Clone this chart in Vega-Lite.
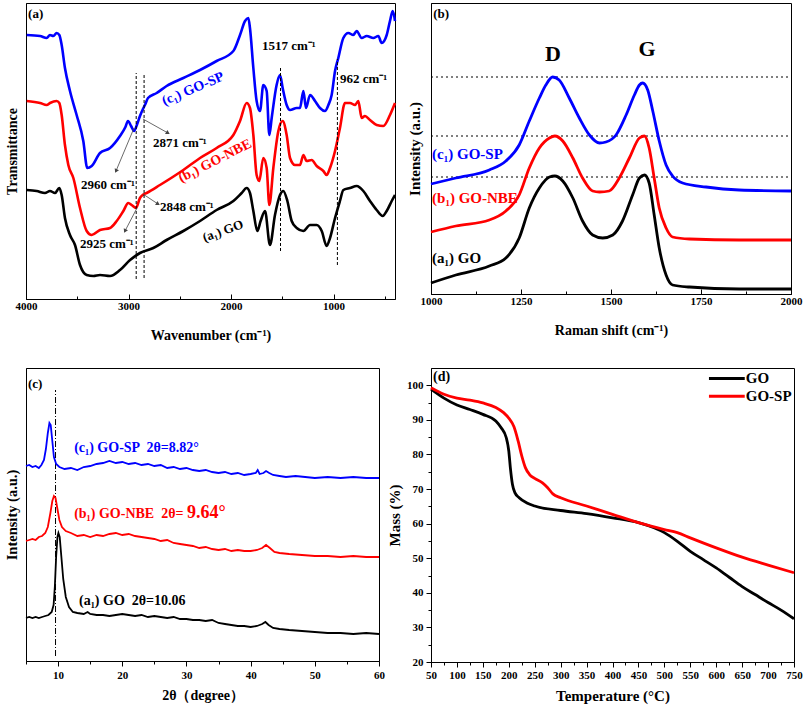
{
  "$schema": "https://vega.github.io/schema/vega-lite/v6.json",
  "background": "white",
  "padding": {"left": 3, "top": 2, "right": 0, "bottom": 2},
  "config": {
    "view": {"stroke": "black", "strokeWidth": 1},
    "font": "Liberation Serif",
    "axis": {"grid": false, "domainColor": "black", "tickColor": "black", "labelColor": "black", "titleColor": "black", "labelFont": "Liberation Serif", "titleFont": "Liberation Serif", "labelFontWeight": "bold", "titleFontWeight": "bold", "labelFontSize": 11, "titleFontSize": 14, "labelFlush": false, "labelOverlap": false},
    "text": {"font": "Liberation Serif", "fontWeight": "bold"}
  },
  "resolve": {"scale": {"color": "independent", "x": "independent", "y": "independent"}},
  "columns": 2,
  "bounds": "flush",
  "spacing": {"row": 69, "column": 36},
  "datasets": {
    "ftir": [
      {"s":"GO-SP","x":3993,"y":264},{"s":"GO-SP","x":3863,"y":263},{"s":"GO-SP","x":3798,"y":261},{"s":"GO-SP","x":3766,"y":264},{"s":"GO-SP","x":3733,"y":263},{"s":"GO-SP","x":3701,"y":266},{"s":"GO-SP","x":3675,"y":264},{"s":"GO-SP","x":3652,"y":254},{"s":"GO-SP","x":3620,"y":231},{"s":"GO-SP","x":3571,"y":208},{"s":"GO-SP","x":3506,"y":184},{"s":"GO-SP","x":3441,"y":158},{"s":"GO-SP","x":3402,"y":131},{"s":"GO-SP","x":3359,"y":133},{"s":"GO-SP","x":3278,"y":146},{"s":"GO-SP","x":3180,"y":151},{"s":"GO-SP","x":3083,"y":163},{"s":"GO-SP","x":3030,"y":172},{"s":"GO-SP","x":3005,"y":178},{"s":"GO-SP","x":2975,"y":173},{"s":"GO-SP","x":2946,"y":168},{"s":"GO-SP","x":2915,"y":175},{"s":"GO-SP","x":2888,"y":183},{"s":"GO-SP","x":2859,"y":190},{"s":"GO-SP","x":2835,"y":195},{"s":"GO-SP","x":2810,"y":201},{"s":"GO-SP","x":2725,"y":206},{"s":"GO-SP","x":2628,"y":213},{"s":"GO-SP","x":2465,"y":221},{"s":"GO-SP","x":2302,"y":229},{"s":"GO-SP","x":2140,"y":238},{"s":"GO-SP","x":1977,"y":248},{"s":"GO-SP","x":1912,"y":264},{"s":"GO-SP","x":1863,"y":278},{"s":"GO-SP","x":1831,"y":281},{"s":"GO-SP","x":1815,"y":271},{"s":"GO-SP","x":1782,"y":231},{"s":"GO-SP","x":1750,"y":198},{"s":"GO-SP","x":1717,"y":188},{"s":"GO-SP","x":1685,"y":214},{"s":"GO-SP","x":1652,"y":208},{"s":"GO-SP","x":1626,"y":164},{"s":"GO-SP","x":1603,"y":181},{"s":"GO-SP","x":1555,"y":214},{"s":"GO-SP","x":1522,"y":224},{"s":"GO-SP","x":1496,"y":211},{"s":"GO-SP","x":1457,"y":194},{"s":"GO-SP","x":1424,"y":189},{"s":"GO-SP","x":1359,"y":191},{"s":"GO-SP","x":1327,"y":191},{"s":"GO-SP","x":1294,"y":208},{"s":"GO-SP","x":1268,"y":191},{"s":"GO-SP","x":1229,"y":204},{"s":"GO-SP","x":1180,"y":198},{"s":"GO-SP","x":1132,"y":191},{"s":"GO-SP","x":1083,"y":188},{"s":"GO-SP","x":1050,"y":194},{"s":"GO-SP","x":1018,"y":204},{"s":"GO-SP","x":985,"y":228},{"s":"GO-SP","x":953,"y":241},{"s":"GO-SP","x":904,"y":261},{"s":"GO-SP","x":855,"y":266},{"s":"GO-SP","x":807,"y":264},{"s":"GO-SP","x":774,"y":268},{"s":"GO-SP","x":725,"y":261},{"s":"GO-SP","x":676,"y":263},{"s":"GO-SP","x":611,"y":261},{"s":"GO-SP","x":563,"y":263},{"s":"GO-SP","x":530,"y":256},{"s":"GO-SP","x":481,"y":264},{"s":"GO-SP","x":449,"y":278},{"s":"GO-SP","x":422,"y":288},{"s":"GO-SP","x":400,"y":278},
      {"s":"GO-NBE","x":3993,"y":198},{"s":"GO-NBE","x":3863,"y":196},{"s":"GO-NBE","x":3798,"y":194},{"s":"GO-NBE","x":3766,"y":196},{"s":"GO-NBE","x":3701,"y":198},{"s":"GO-NBE","x":3675,"y":196},{"s":"GO-NBE","x":3652,"y":184},{"s":"GO-NBE","x":3620,"y":154},{"s":"GO-NBE","x":3587,"y":134},{"s":"GO-NBE","x":3538,"y":121},{"s":"GO-NBE","x":3473,"y":91},{"s":"GO-NBE","x":3408,"y":68},{"s":"GO-NBE","x":3359,"y":64},{"s":"GO-NBE","x":3278,"y":69},{"s":"GO-NBE","x":3180,"y":71},{"s":"GO-NBE","x":3115,"y":78},{"s":"GO-NBE","x":3050,"y":88},{"s":"GO-NBE","x":3002,"y":96},{"s":"GO-NBE","x":2969,"y":94},{"s":"GO-NBE","x":2927,"y":91},{"s":"GO-NBE","x":2888,"y":101},{"s":"GO-NBE","x":2862,"y":104},{"s":"GO-NBE","x":2823,"y":106},{"s":"GO-NBE","x":2693,"y":114},{"s":"GO-NBE","x":2465,"y":129},{"s":"GO-NBE","x":2302,"y":141},{"s":"GO-NBE","x":2140,"y":151},{"s":"GO-NBE","x":1977,"y":164},{"s":"GO-NBE","x":1912,"y":178},{"s":"GO-NBE","x":1847,"y":196},{"s":"GO-NBE","x":1815,"y":191},{"s":"GO-NBE","x":1782,"y":164},{"s":"GO-NBE","x":1750,"y":124},{"s":"GO-NBE","x":1724,"y":118},{"s":"GO-NBE","x":1685,"y":141},{"s":"GO-NBE","x":1652,"y":131},{"s":"GO-NBE","x":1626,"y":94},{"s":"GO-NBE","x":1587,"y":131},{"s":"GO-NBE","x":1538,"y":168},{"s":"GO-NBE","x":1496,"y":178},{"s":"GO-NBE","x":1457,"y":164},{"s":"GO-NBE","x":1424,"y":141},{"s":"GO-NBE","x":1376,"y":134},{"s":"GO-NBE","x":1327,"y":134},{"s":"GO-NBE","x":1294,"y":144},{"s":"GO-NBE","x":1262,"y":138},{"s":"GO-NBE","x":1213,"y":139},{"s":"GO-NBE","x":1164,"y":133},{"s":"GO-NBE","x":1099,"y":128},{"s":"GO-NBE","x":1067,"y":124},{"s":"GO-NBE","x":1034,"y":131},{"s":"GO-NBE","x":985,"y":148},{"s":"GO-NBE","x":937,"y":171},{"s":"GO-NBE","x":888,"y":196},{"s":"GO-NBE","x":839,"y":196},{"s":"GO-NBE","x":790,"y":194},{"s":"GO-NBE","x":758,"y":198},{"s":"GO-NBE","x":725,"y":181},{"s":"GO-NBE","x":693,"y":183},{"s":"GO-NBE","x":644,"y":179},{"s":"GO-NBE","x":579,"y":174},{"s":"GO-NBE","x":514,"y":173},{"s":"GO-NBE","x":449,"y":184},{"s":"GO-NBE","x":400,"y":196},
      {"s":"GO","x":3993,"y":109},{"s":"GO","x":3896,"y":108},{"s":"GO","x":3815,"y":106},{"s":"GO","x":3766,"y":108},{"s":"GO","x":3717,"y":106},{"s":"GO","x":3675,"y":111},{"s":"GO","x":3652,"y":104},{"s":"GO","x":3620,"y":81},{"s":"GO","x":3571,"y":64},{"s":"GO","x":3522,"y":54},{"s":"GO","x":3473,"y":34},{"s":"GO","x":3408,"y":24},{"s":"GO","x":3343,"y":23},{"s":"GO","x":3278,"y":24},{"s":"GO","x":3180,"y":23},{"s":"GO","x":3083,"y":29},{"s":"GO","x":2985,"y":39},{"s":"GO","x":2888,"y":46},{"s":"GO","x":2758,"y":51},{"s":"GO","x":2628,"y":59},{"s":"GO","x":2465,"y":68},{"s":"GO","x":2302,"y":78},{"s":"GO","x":2140,"y":89},{"s":"GO","x":1977,"y":98},{"s":"GO","x":1896,"y":106},{"s":"GO","x":1847,"y":111},{"s":"GO","x":1815,"y":106},{"s":"GO","x":1782,"y":88},{"s":"GO","x":1743,"y":68},{"s":"GO","x":1711,"y":78},{"s":"GO","x":1668,"y":88},{"s":"GO","x":1620,"y":54},{"s":"GO","x":1571,"y":84},{"s":"GO","x":1522,"y":104},{"s":"GO","x":1490,"y":108},{"s":"GO","x":1450,"y":98},{"s":"GO","x":1408,"y":78},{"s":"GO","x":1359,"y":71},{"s":"GO","x":1294,"y":68},{"s":"GO","x":1229,"y":74},{"s":"GO","x":1164,"y":74},{"s":"GO","x":1115,"y":68},{"s":"GO","x":1067,"y":53},{"s":"GO","x":1034,"y":61},{"s":"GO","x":985,"y":81},{"s":"GO","x":937,"y":98},{"s":"GO","x":904,"y":109},{"s":"GO","x":839,"y":111},{"s":"GO","x":774,"y":113},{"s":"GO","x":709,"y":108},{"s":"GO","x":644,"y":98},{"s":"GO","x":579,"y":89},{"s":"GO","x":520,"y":83},{"s":"GO","x":481,"y":88},{"s":"GO","x":432,"y":98},{"s":"GO","x":400,"y":104}
    ],
    "raman": [
      {"s":"GO-SP","x":1000,"y":110},{"s":"GO-SP","x":1069,"y":116},{"s":"GO-SP","x":1162,"y":124},{"s":"GO-SP","x":1208,"y":133},{"s":"GO-SP","x":1245,"y":149},{"s":"GO-SP","x":1273,"y":173},{"s":"GO-SP","x":1301,"y":196},{"s":"GO-SP","x":1319,"y":209},{"s":"GO-SP","x":1338,"y":217},{"s":"GO-SP","x":1356,"y":214},{"s":"GO-SP","x":1384,"y":196},{"s":"GO-SP","x":1412,"y":176},{"s":"GO-SP","x":1440,"y":159},{"s":"GO-SP","x":1468,"y":151},{"s":"GO-SP","x":1486,"y":152},{"s":"GO-SP","x":1514,"y":159},{"s":"GO-SP","x":1542,"y":179},{"s":"GO-SP","x":1565,"y":199},{"s":"GO-SP","x":1579,"y":209},{"s":"GO-SP","x":1588,"y":211},{"s":"GO-SP","x":1602,"y":204},{"s":"GO-SP","x":1616,"y":183},{"s":"GO-SP","x":1634,"y":153},{"s":"GO-SP","x":1653,"y":129},{"s":"GO-SP","x":1671,"y":118},{"s":"GO-SP","x":1699,"y":111},{"s":"GO-SP","x":1764,"y":107},{"s":"GO-SP","x":1856,"y":104},{"s":"GO-SP","x":2000,"y":103},
      {"s":"GO-NBE","x":1000,"y":62},{"s":"GO-NBE","x":1069,"y":68},{"s":"GO-NBE","x":1162,"y":74},{"s":"GO-NBE","x":1208,"y":83},{"s":"GO-NBE","x":1245,"y":99},{"s":"GO-NBE","x":1273,"y":126},{"s":"GO-NBE","x":1301,"y":146},{"s":"GO-NBE","x":1329,"y":156},{"s":"GO-NBE","x":1344,"y":158},{"s":"GO-NBE","x":1366,"y":153},{"s":"GO-NBE","x":1394,"y":136},{"s":"GO-NBE","x":1421,"y":116},{"s":"GO-NBE","x":1449,"y":103},{"s":"GO-NBE","x":1468,"y":102},{"s":"GO-NBE","x":1495,"y":103},{"s":"GO-NBE","x":1523,"y":116},{"s":"GO-NBE","x":1551,"y":136},{"s":"GO-NBE","x":1579,"y":156},{"s":"GO-NBE","x":1593,"y":158},{"s":"GO-NBE","x":1606,"y":146},{"s":"GO-NBE","x":1620,"y":116},{"s":"GO-NBE","x":1634,"y":86},{"s":"GO-NBE","x":1653,"y":66},{"s":"GO-NBE","x":1671,"y":57},{"s":"GO-NBE","x":1718,"y":55},{"s":"GO-NBE","x":1856,"y":54},{"s":"GO-NBE","x":2000,"y":54},
      {"s":"GO","x":1000,"y":11},{"s":"GO","x":1069,"y":19},{"s":"GO","x":1162,"y":28},{"s":"GO","x":1208,"y":36},{"s":"GO","x":1245,"y":56},{"s":"GO","x":1273,"y":86},{"s":"GO","x":1301,"y":106},{"s":"GO","x":1329,"y":117},{"s":"GO","x":1344,"y":118},{"s":"GO","x":1366,"y":113},{"s":"GO","x":1394,"y":96},{"s":"GO","x":1421,"y":73},{"s":"GO","x":1449,"y":59},{"s":"GO","x":1477,"y":56},{"s":"GO","x":1505,"y":59},{"s":"GO","x":1532,"y":73},{"s":"GO","x":1560,"y":99},{"s":"GO","x":1579,"y":116},{"s":"GO","x":1593,"y":119},{"s":"GO","x":1606,"y":111},{"s":"GO","x":1620,"y":79},{"s":"GO","x":1634,"y":46},{"s":"GO","x":1653,"y":19},{"s":"GO","x":1671,"y":9},{"s":"GO","x":1718,"y":7},{"s":"GO","x":1856,"y":5},{"s":"GO","x":2000,"y":5}
    ],
    "xrd": [
      {"s":"GO-SP","x":5,"y":195},{"s":"GO-SP","x":5.5,"y":196},{"s":"GO-SP","x":6,"y":194},{"s":"GO-SP","x":6.5,"y":195},{"s":"GO-SP","x":7,"y":193},{"s":"GO-SP","x":7.4,"y":196},{"s":"GO-SP","x":7.8,"y":201},{"s":"GO-SP","x":8.1,"y":212},{"s":"GO-SP","x":8.4,"y":228},{"s":"GO-SP","x":8.65,"y":238},{"s":"GO-SP","x":8.85,"y":236},{"s":"GO-SP","x":9.1,"y":220},{"s":"GO-SP","x":9.35,"y":204},{"s":"GO-SP","x":9.7,"y":197},{"s":"GO-SP","x":10.2,"y":194},{"s":"GO-SP","x":11,"y":192},{"s":"GO-SP","x":12,"y":193},{"s":"GO-SP","x":13,"y":191},{"s":"GO-SP","x":14,"y":194},{"s":"GO-SP","x":15,"y":195},{"s":"GO-SP","x":16,"y":197},{"s":"GO-SP","x":17,"y":198},{"s":"GO-SP","x":18,"y":200},{"s":"GO-SP","x":19,"y":198},{"s":"GO-SP","x":20,"y":199},{"s":"GO-SP","x":21,"y":197},{"s":"GO-SP","x":22,"y":198},{"s":"GO-SP","x":23,"y":196},{"s":"GO-SP","x":24,"y":197},{"s":"GO-SP","x":25,"y":195},{"s":"GO-SP","x":26,"y":196},{"s":"GO-SP","x":27,"y":193},{"s":"GO-SP","x":28,"y":194},{"s":"GO-SP","x":29,"y":192},{"s":"GO-SP","x":30,"y":193},{"s":"GO-SP","x":31,"y":191},{"s":"GO-SP","x":32,"y":190},{"s":"GO-SP","x":33,"y":191},{"s":"GO-SP","x":34,"y":189},{"s":"GO-SP","x":35,"y":188},{"s":"GO-SP","x":36,"y":189},{"s":"GO-SP","x":37,"y":187},{"s":"GO-SP","x":38,"y":188},{"s":"GO-SP","x":39,"y":186},{"s":"GO-SP","x":40,"y":187},{"s":"GO-SP","x":40.8,"y":188},{"s":"GO-SP","x":41.1,"y":191},{"s":"GO-SP","x":41.4,"y":187},{"s":"GO-SP","x":42,"y":188},{"s":"GO-SP","x":42.4,"y":190},{"s":"GO-SP","x":42.9,"y":188},{"s":"GO-SP","x":43.5,"y":186},{"s":"GO-SP","x":44.5,"y":185},{"s":"GO-SP","x":45.5,"y":184},{"s":"GO-SP","x":47,"y":185},{"s":"GO-SP","x":48.5,"y":184},{"s":"GO-SP","x":50,"y":183},{"s":"GO-SP","x":52,"y":184},{"s":"GO-SP","x":54,"y":183},{"s":"GO-SP","x":56,"y":184},{"s":"GO-SP","x":58,"y":183},{"s":"GO-SP","x":60,"y":183},
      {"s":"GO-NBE","x":5,"y":120},{"s":"GO-NBE","x":5.5,"y":121},{"s":"GO-NBE","x":6,"y":122},{"s":"GO-NBE","x":6.5,"y":121},{"s":"GO-NBE","x":7,"y":124},{"s":"GO-NBE","x":7.5,"y":125},{"s":"GO-NBE","x":8,"y":128},{"s":"GO-NBE","x":8.4,"y":134},{"s":"GO-NBE","x":8.8,"y":148},{"s":"GO-NBE","x":9.1,"y":160},{"s":"GO-NBE","x":9.35,"y":165},{"s":"GO-NBE","x":9.6,"y":163},{"s":"GO-NBE","x":9.9,"y":152},{"s":"GO-NBE","x":10.2,"y":141},{"s":"GO-NBE","x":10.6,"y":134},{"s":"GO-NBE","x":11.2,"y":130},{"s":"GO-NBE","x":12,"y":128},{"s":"GO-NBE","x":13,"y":125},{"s":"GO-NBE","x":14,"y":126},{"s":"GO-NBE","x":15,"y":124},{"s":"GO-NBE","x":16,"y":126},{"s":"GO-NBE","x":17,"y":125},{"s":"GO-NBE","x":18,"y":127},{"s":"GO-NBE","x":19,"y":128},{"s":"GO-NBE","x":20,"y":126},{"s":"GO-NBE","x":21,"y":127},{"s":"GO-NBE","x":22,"y":125},{"s":"GO-NBE","x":23,"y":124},{"s":"GO-NBE","x":24,"y":123},{"s":"GO-NBE","x":25,"y":122},{"s":"GO-NBE","x":26,"y":120},{"s":"GO-NBE","x":27,"y":121},{"s":"GO-NBE","x":28,"y":118},{"s":"GO-NBE","x":29,"y":117},{"s":"GO-NBE","x":30,"y":116},{"s":"GO-NBE","x":31,"y":115},{"s":"GO-NBE","x":32,"y":113},{"s":"GO-NBE","x":33,"y":114},{"s":"GO-NBE","x":34,"y":112},{"s":"GO-NBE","x":35,"y":111},{"s":"GO-NBE","x":36,"y":112},{"s":"GO-NBE","x":37,"y":110},{"s":"GO-NBE","x":38,"y":111},{"s":"GO-NBE","x":39,"y":110},{"s":"GO-NBE","x":40,"y":110},{"s":"GO-NBE","x":41,"y":111},{"s":"GO-NBE","x":41.8,"y":113},{"s":"GO-NBE","x":42.4,"y":116},{"s":"GO-NBE","x":43,"y":113},{"s":"GO-NBE","x":43.7,"y":109},{"s":"GO-NBE","x":44.5,"y":108},{"s":"GO-NBE","x":46,"y":107},{"s":"GO-NBE","x":48,"y":106},{"s":"GO-NBE","x":50,"y":105},{"s":"GO-NBE","x":52,"y":105},{"s":"GO-NBE","x":54,"y":104},{"s":"GO-NBE","x":56,"y":105},{"s":"GO-NBE","x":58,"y":104},{"s":"GO-NBE","x":60,"y":104},
      {"s":"GO","x":5,"y":43},{"s":"GO","x":5.5,"y":44},{"s":"GO","x":6,"y":43},{"s":"GO","x":6.5,"y":44},{"s":"GO","x":7,"y":43},{"s":"GO","x":7.5,"y":44},{"s":"GO","x":8,"y":45},{"s":"GO","x":8.5,"y":46},{"s":"GO","x":9,"y":49},{"s":"GO","x":9.3,"y":56},{"s":"GO","x":9.5,"y":75},{"s":"GO","x":9.7,"y":105},{"s":"GO","x":9.9,"y":124},{"s":"GO","x":10.05,"y":128},{"s":"GO","x":10.25,"y":124},{"s":"GO","x":10.5,"y":105},{"s":"GO","x":10.8,"y":82},{"s":"GO","x":11.2,"y":64},{"s":"GO","x":11.7,"y":54},{"s":"GO","x":12.3,"y":49},{"s":"GO","x":13,"y":48},{"s":"GO","x":14,"y":47},{"s":"GO","x":14.6,"y":49},{"s":"GO","x":15,"y":47},{"s":"GO","x":16,"y":46},{"s":"GO","x":17,"y":46},{"s":"GO","x":18,"y":45},{"s":"GO","x":19,"y":46},{"s":"GO","x":20,"y":47},{"s":"GO","x":21,"y":46},{"s":"GO","x":22,"y":45},{"s":"GO","x":23,"y":46},{"s":"GO","x":24,"y":44},{"s":"GO","x":25,"y":45},{"s":"GO","x":26,"y":44},{"s":"GO","x":27,"y":43},{"s":"GO","x":28,"y":44},{"s":"GO","x":29,"y":42},{"s":"GO","x":30,"y":42},{"s":"GO","x":31,"y":41},{"s":"GO","x":32,"y":41},{"s":"GO","x":33,"y":40},{"s":"GO","x":34,"y":41},{"s":"GO","x":35,"y":38},{"s":"GO","x":36,"y":37},{"s":"GO","x":37,"y":36},{"s":"GO","x":38,"y":35},{"s":"GO","x":39,"y":35},{"s":"GO","x":40,"y":34},{"s":"GO","x":41,"y":35},{"s":"GO","x":41.8,"y":37},{"s":"GO","x":42.3,"y":39},{"s":"GO","x":42.8,"y":36},{"s":"GO","x":43.5,"y":33},{"s":"GO","x":44.5,"y":32},{"s":"GO","x":46,"y":31},{"s":"GO","x":48,"y":30},{"s":"GO","x":50,"y":29},{"s":"GO","x":52,"y":28},{"s":"GO","x":54,"y":28},{"s":"GO","x":56,"y":27},{"s":"GO","x":58,"y":28},{"s":"GO","x":60,"y":27}
    ],
    "tga": [
      {"s":"GO","x":50,"y":98.9},{"s":"GO","x":75,"y":96.3},{"s":"GO","x":100,"y":94.3},{"s":"GO","x":125,"y":93.0},{"s":"GO","x":150,"y":91.6},{"s":"GO","x":175,"y":89.7},{"s":"GO","x":185,"y":87.8},{"s":"GO","x":195,"y":84.9},{"s":"GO","x":200,"y":81.0},{"s":"GO","x":203,"y":76.2},{"s":"GO","x":207,"y":71.4},{"s":"GO","x":212,"y":68.9},{"s":"GO","x":220,"y":67.5},{"s":"GO","x":235,"y":66.0},{"s":"GO","x":250,"y":65.1},{"s":"GO","x":300,"y":63.8},{"s":"GO","x":350,"y":62.9},{"s":"GO","x":400,"y":61.7},{"s":"GO","x":450,"y":60.3},{"s":"GO","x":480,"y":58.8},{"s":"GO","x":500,"y":57.4},{"s":"GO","x":525,"y":54.9},{"s":"GO","x":550,"y":52.0},{"s":"GO","x":575,"y":49.6},{"s":"GO","x":600,"y":47.2},{"s":"GO","x":625,"y":44.5},{"s":"GO","x":650,"y":41.8},{"s":"GO","x":675,"y":39.5},{"s":"GO","x":700,"y":37.2},{"s":"GO","x":725,"y":35.0},{"s":"GO","x":750,"y":32.5},
      {"s":"GO-SP","x":50,"y":99.3},{"s":"GO-SP","x":75,"y":97.4},{"s":"GO-SP","x":100,"y":96.3},{"s":"GO-SP","x":125,"y":95.7},{"s":"GO-SP","x":150,"y":94.9},{"s":"GO-SP","x":175,"y":93.6},{"s":"GO-SP","x":190,"y":92.1},{"s":"GO-SP","x":200,"y":90.5},{"s":"GO-SP","x":210,"y":88.0},{"s":"GO-SP","x":218,"y":83.9},{"s":"GO-SP","x":225,"y":79.6},{"s":"GO-SP","x":232,"y":76.2},{"s":"GO-SP","x":240,"y":74.2},{"s":"GO-SP","x":250,"y":73.1},{"s":"GO-SP","x":265,"y":71.8},{"s":"GO-SP","x":275,"y":70.4},{"s":"GO-SP","x":285,"y":68.6},{"s":"GO-SP","x":300,"y":67.5},{"s":"GO-SP","x":350,"y":65.1},{"s":"GO-SP","x":400,"y":62.7},{"s":"GO-SP","x":450,"y":60.3},{"s":"GO-SP","x":500,"y":58.3},{"s":"GO-SP","x":525,"y":57.4},{"s":"GO-SP","x":550,"y":55.9},{"s":"GO-SP","x":600,"y":53.0},{"s":"GO-SP","x":650,"y":50.3},{"s":"GO-SP","x":700,"y":48.0},{"s":"GO-SP","x":750,"y":45.8}
    ]
  },
  "concat": [
    {
      "width": 369, "height": 296,
      "encoding": {
        "x": {"field": "x", "type": "quantitative", "scale": {"domain": [400, 4000], "reverse": true, "nice": false, "zero": false},
              "axis": {"title": "Wavenumber (cm⁻¹)", "values": [4000,3500,3000,2500,2000,1500,1000,500], "format": "d", "labelExpr": "datum.value % 1000 === 0 ? datum.label : ''", "tickSize": {"condition": {"test": "datum.value % 1000 === 0", "value": -5}, "value": -3}, "labelPadding": 6, "titlePadding": 15, "titleFontSize": 14}},
        "y": {"field": "y", "type": "quantitative", "scale": {"domain": [0, 296], "nice": false, "zero": false},
              "axis": {"title": "Transmittance", "labels": false, "ticks": false, "titlePadding": 7, "titleFontSize": 14}}
      },
      "layer": [
        {"data": {"name": "ftir"}, "mark": {"type": "line", "strokeWidth": 2.6, "interpolate": "monotone"},
         "encoding": {"color": {"field": "s", "type": "nominal", "scale": {"domain": ["GO", "GO-NBE", "GO-SP"], "range": ["#000000", "#ff0000", "#0000ff"]}, "legend": null}}},
        {"data": {"values": [{"x": 2925, "y": 20, "y2": 226}, {"x": 2848, "y": 21, "y2": 226}, {"x": 1517, "y": 48, "y2": 231}, {"x": 962, "y": 34, "y2": 240}]},
         "mark": {"type": "rule", "strokeDash": [3, 2], "color": "black", "strokeWidth": 1}, "encoding": {"y2": {"field": "y2"}}},
        {"data": {"values": [{"x": 2946, "y": 171, "x2": 3122, "y2": 128}, {"x": 2859, "y": 180, "x2": 2615, "y2": 166}, {"x": 2859, "y": 105, "x2": 2712, "y2": 95}, {"x": 2917, "y": 91, "x2": 3034, "y2": 68}]},
         "mark": {"type": "rule", "color": "#444444", "strokeWidth": 0.8}, "encoding": {"x2": {"field": "x2"}, "y2": {"field": "y2"}}},
        {"data": {"values": [{"x": 3122, "y": 128}, {"x": 3034, "y": 68}]},
         "mark": {"type": "point", "shape": "triangle-up", "filled": true, "size": 22, "color": "#444444", "opacity": 1, "angle": 205}},
        {"data": {"values": [{"x": 2615, "y": 166}, {"x": 2712, "y": 95}]},
         "mark": {"type": "point", "shape": "triangle-up", "filled": true, "size": 22, "color": "#444444", "opacity": 1, "angle": 121}},
        {"data": {"values": [{"x": 3980, "y": 285, "t": "(a)"}]},
         "mark": {"type": "text", "align": "left", "baseline": "middle", "fontSize": 13, "color": "black"}, "encoding": {"text": {"field": "t"}}},
        {"data": {"values": [{"x": 1698, "y": 253, "t": "1517 cm⁻¹"}, {"x": 937, "y": 220, "t": "962 cm⁻¹"}, {"x": 2761, "y": 156, "t": "2871 cm⁻¹"}, {"x": 3463, "y": 114, "t": "2960 cm⁻¹"}, {"x": 2693, "y": 92, "t": "2848 cm⁻¹"}, {"x": 3473, "y": 55, "t": "2925 cm⁻¹"}]},
         "mark": {"type": "text", "align": "left", "baseline": "middle", "fontSize": 13, "color": "black"}, "encoding": {"text": {"field": "t"}}},
        {"data": {"values": [{"x": 2371, "y": 210, "t": "(c₁) GO-SP"}]},
         "mark": {"type": "text", "align": "center", "baseline": "middle", "fontSize": 14, "angle": -23, "color": "#0000ff"}, "encoding": {"text": {"field": "t"}}},
        {"data": {"values": [{"x": 2156, "y": 138, "t": "(b₁) GO-NBE"}]},
         "mark": {"type": "text", "align": "center", "baseline": "middle", "fontSize": 14, "angle": -27, "color": "#ff0000"}, "encoding": {"text": {"field": "t"}}},
        {"data": {"values": [{"x": 2078, "y": 68, "t": "(a₁) GO"}]},
         "mark": {"type": "text", "align": "center", "baseline": "middle", "fontSize": 13, "angle": -20, "color": "black"}, "encoding": {"text": {"field": "t"}}}
      ]
    },
    {
      "width": 360, "height": 291,
      "encoding": {
        "x": {"field": "x", "type": "quantitative", "scale": {"domain": [1000, 2000], "nice": false, "zero": false},
              "axis": {"title": "Raman shift (cm⁻¹)", "values": [1000,1125,1250,1375,1500,1625,1750,1875,2000], "format": "d", "labelExpr": "datum.value % 250 === 0 ? datum.label : ''", "tickSize": {"condition": {"test": "datum.value % 250 === 0", "value": -5}, "value": -3}, "labelPadding": 6, "titlePadding": 15, "titleFontSize": 14}},
        "y": {"field": "y", "type": "quantitative", "scale": {"domain": [0, 291], "nice": false, "zero": false},
              "axis": {"title": "Intensity (a.u.)", "labels": false, "ticks": false, "titlePadding": 9, "titleFontSize": 15}}
      },
      "layer": [
        {"data": {"values": [{"x": 1000, "x2": 2000, "y": 217}, {"x": 1000, "x2": 2000, "y": 158}, {"x": 1000, "x2": 2000, "y": 117}]},
         "mark": {"type": "rule", "strokeDash": [2, 3], "color": "black", "strokeWidth": 1}, "encoding": {"x2": {"field": "x2"}}},
        {"data": {"name": "raman"}, "mark": {"type": "line", "strokeWidth": 2.8, "interpolate": "monotone"},
         "encoding": {"color": {"field": "s", "type": "nominal", "scale": {"domain": ["GO", "GO-NBE", "GO-SP"], "range": ["#000000", "#ff0000", "#0000ff"]}, "legend": null}}},
        {"data": {"values": [{"x": 1006, "y": 280, "t": "(b)"}]},
         "mark": {"type": "text", "align": "left", "baseline": "middle", "fontSize": 13, "color": "black"}, "encoding": {"text": {"field": "t"}}},
        {"data": {"values": [{"x": 1339, "y": 240, "t": "D"}, {"x": 1600, "y": 245, "t": "G"}]},
         "mark": {"type": "text", "align": "center", "baseline": "middle", "fontSize": 22, "color": "black"}, "encoding": {"text": {"field": "t"}}},
        {"data": {"values": [{"x": 1003, "y": 140, "t": "(c₁) GO-SP", "s": "GO-SP"}, {"x": 1003, "y": 96, "t": "(b₁) GO-NBE", "s": "GO-NBE"}, {"x": 1003, "y": 36, "t": "(a₁) GO", "s": "GO"}]},
         "mark": {"type": "text", "align": "left", "baseline": "middle", "fontSize": 15},
         "encoding": {"text": {"field": "t"}, "color": {"field": "s", "type": "nominal", "scale": {"domain": ["GO", "GO-NBE", "GO-SP"], "range": ["#000000", "#ff0000", "#0000ff"]}, "legend": null}}}
      ]
    },
    {
      "width": 353, "height": 293,
      "encoding": {
        "x": {"field": "x", "type": "quantitative", "scale": {"domain": [5, 60], "nice": false, "zero": false},
              "axis": {"title": "2θ（degree）", "values": [5,10,15,20,25,30,35,40,45,50,55,60], "labelExpr": "datum.value % 10 === 0 ? datum.label : ''", "tickSize": {"condition": {"test": "datum.value % 10 === 0", "value": 5}, "value": 3}, "labelPadding": 3, "titlePadding": 8, "titleFontSize": 14}},
        "y": {"field": "y", "type": "quantitative", "scale": {"domain": [0, 293], "nice": false, "zero": false},
              "axis": {"title": "Intensity (a.u.)", "labels": false, "ticks": false, "titlePadding": 7, "titleFontSize": 14.5}}
      },
      "layer": [
        {"data": {"values": [{"x": 9.6, "y": 5, "y2": 271}]},
         "mark": {"type": "rule", "strokeDash": [6, 2, 1, 2], "color": "black", "strokeWidth": 1}, "encoding": {"y2": {"field": "y2"}}},
        {"data": {"name": "xrd"}, "mark": {"type": "line", "strokeWidth": 1.8},
         "encoding": {"color": {"field": "s", "type": "nominal", "scale": {"domain": ["GO", "GO-NBE", "GO-SP"], "range": ["#000000", "#ff0000", "#0000ff"]}, "legend": null}}},
        {"data": {"values": [{"x": 5.3, "y": 277, "t": "(c)"}]},
         "mark": {"type": "text", "align": "left", "baseline": "middle", "fontSize": 13, "color": "black"}, "encoding": {"text": {"field": "t"}}},
        {"data": {"values": [{"x": 12.5, "y": 209, "t": "(c₁) GO-SP \u00a02θ=8.82°", "s": "GO-SP"}, {"x": 12.5, "y": 143, "t": "(b₁) GO-NBE \u00a02θ=", "s": "GO-NBE"}, {"x": 13.26, "y": 56, "t": "(a₁) GO \u00a02θ=10.06", "s": "GO"}]},
         "mark": {"type": "text", "align": "left", "baseline": "alphabetic", "fontSize": 14},
         "encoding": {"text": {"field": "t"}, "color": {"field": "s", "type": "nominal", "scale": {"domain": ["GO", "GO-NBE", "GO-SP"], "range": ["#000000", "#ff0000", "#0000ff"]}, "legend": null}}},
        {"data": {"values": [{"x": 30.1, "y": 143, "t": "9.64°"}]},
         "mark": {"type": "text", "align": "left", "baseline": "alphabetic", "fontSize": 18, "color": "#ff0000"}, "encoding": {"text": {"field": "t"}}}
      ]
    },
    {
      "width": 363, "height": 294,
      "encoding": {
        "x": {"field": "x", "type": "quantitative", "scale": {"domain": [50, 750], "nice": false, "zero": false},
              "axis": {"title": "Temperature (°C)", "values": [50,75,100,125,150,175,200,225,250,275,300,325,350,375,400,425,450,475,500,525,550,575,600,625,650,675,700,725,750], "labelExpr": "datum.value % 50 === 0 ? datum.label : ''", "tickSize": {"condition": {"test": "datum.value % 50 === 0", "value": 5}, "value": 3}, "labelPadding": 2, "titlePadding": 8, "titleFontSize": 15}},
        "y": {"field": "y", "type": "quantitative", "scale": {"domain": [20, 105], "nice": false, "zero": false},
              "axis": {"title": "Mass (%)", "values": [20,25,30,35,40,45,50,55,60,65,70,75,80,85,90,95,100], "labelExpr": "datum.value % 10 === 0 ? datum.label : ''", "tickSize": {"condition": {"test": "datum.value % 10 === 0", "value": 5}, "value": 3}, "labelPadding": 3, "titlePadding": 4, "titleFontSize": 15}}
      },
      "layer": [
        {"data": {"name": "tga"}, "mark": {"type": "line", "strokeWidth": 2.8, "interpolate": "monotone"},
         "encoding": {"color": {"field": "s", "type": "nominal", "scale": {"domain": ["GO", "GO-SP"], "range": ["#000000", "#ff0000"]}, "legend": null}}},
        {"data": {"values": [{"x": 586, "x2": 655, "y": 102.0, "s": "GO"}, {"x": 586, "x2": 655, "y": 96.8, "s": "GO-SP"}]},
         "mark": {"type": "rule", "strokeWidth": 3},
         "encoding": {"x2": {"field": "x2"}, "color": {"field": "s", "type": "nominal", "scale": {"domain": ["GO", "GO-SP"], "range": ["#000000", "#ff0000"]}, "legend": null}}},
        {"data": {"values": [{"x": 657, "y": 102.0, "t": "GO"}, {"x": 657, "y": 96.8, "t": "GO-SP"}]},
         "mark": {"type": "text", "align": "left", "baseline": "middle", "fontSize": 15, "color": "black"}, "encoding": {"text": {"field": "t"}}},
        {"data": {"values": [{"x": 54, "y": 102.3, "t": "(d)"}]},
         "mark": {"type": "text", "align": "left", "baseline": "middle", "fontSize": 14, "color": "black"}, "encoding": {"text": {"field": "t"}}}
      ]
    }
  ]
}
